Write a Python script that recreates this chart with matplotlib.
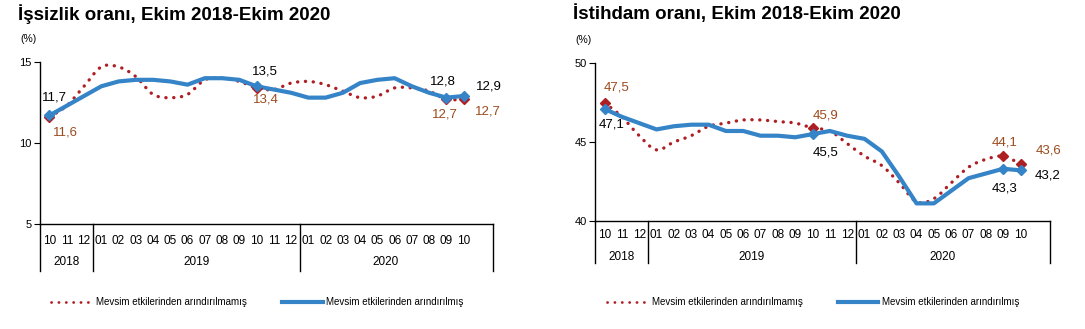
import matplotlib
matplotlib.use("Agg")
from matplotlib import pyplot as plt
from matplotlib.path import Path
from matplotlib.patches import PathPatch
from matplotlib.lines import Line2D
import matplotlib.transforms as mtransforms
import numpy as np

plt.rcParams['font.family'] = ['Liberation Sans', 'DejaVu Sans']

# ------------------------------------------------------------------ data
months = ['10', '11', '12', '01', '02', '03', '04', '05', '06', '07', '08', '09',
          '10', '11', '12', '01', '02', '03', '04', '05', '06', '07', '08', '09', '10']
years = ['2018', '2019', '2020']
year_spans = [(0, 2), (3, 14), (15, 24)]

issizlik_ham = [11.6, 12.3, 13.5, 14.7, 14.7, 14.1, 13.0, 12.8, 13.0, 13.9, 14.0, 13.8, 13.4,
                13.3, 13.7, 13.8, 13.6, 13.2, 12.8, 12.9, 13.4, 13.4, 13.2, 12.7, 12.7]
issizlik_mea = [11.7, 12.3, 12.9, 13.5, 13.8, 13.9, 13.9, 13.8, 13.6, 14.0, 14.0, 13.9, 13.5,
                13.3, 13.1, 12.8, 12.8, 13.1, 13.7, 13.9, 14.0, 13.5, 13.1, 12.8, 12.9]
istihdam_ham = [47.5, 46.6, 45.4, 44.5, 45.0, 45.4, 46.0, 46.2, 46.4, 46.4, 46.3, 46.2, 45.9,
                45.7, 44.9, 44.1, 43.5, 42.4, 41.2, 41.4, 42.4, 43.4, 43.9, 44.1, 43.6]
istihdam_mea = [47.1, 46.6, 46.2, 45.8, 46.0, 46.1, 46.1, 45.7, 45.7, 45.4, 45.4, 45.3, 45.5,
                45.7, 45.4, 45.2, 44.4, 42.8, 41.1, 41.1, 41.9, 42.7, 43.0, 43.3, 43.2]
label_idx = [0, 12, 23, 24]

RED = '#AE1F24'
BLUE = '#3584C8'
BROWN = '#9C4A1C'
W, H = 1085, 329

fig = plt.figure(figsize=(W / 100, H / 100), dpi=100)


def smooth_path(x, y):
    # excel style smoothed line (cubic bezier through every point)
    pts = np.column_stack([x, y]).astype(float)
    verts, codes = [pts[0]], [Path.MOVETO]
    n = len(pts)
    for i in range(n - 1):
        p0 = pts[max(i - 1, 0)]
        p1, p2 = pts[i], pts[i + 1]
        p3 = pts[min(i + 2, n - 1)]
        verts += [p1 + (p2 - p0) / 6, p2 - (p3 - p1) / 6, p2]
        codes += [Path.CURVE4] * 3
    return Path(verts, codes)


def draw_chart(rect, title, ylim, yticks, ham, mea, labels, row_y, sep_bottom):
    ax = fig.add_axes(rect)
    x = np.arange(len(months))
    ax.add_patch(PathPatch(smooth_path(x, ham), fill=False, edgecolor=RED, lw=2.4,
                           linestyle=(0, (0.05, 2.3)), capstyle='round', zorder=3))
    ax.plot(x, mea, color=BLUE, lw=3.0, solid_joinstyle='round', zorder=4)
    ax.plot(x[label_idx], np.array(ham)[label_idx], 'D', color=RED, ms=5, zorder=5)
    ax.plot(x[label_idx], np.array(mea)[label_idx], 'D', color=BLUE, ms=5, zorder=5)
    for i, (txt, dx, dy, col) in zip(label_idx * 2, labels):
        val = ham[i] if col == BROWN else mea[i]
        ax.annotate(txt, (i, val), xytext=(dx, -dy), textcoords='offset pixels',
                    ha='center', va='center', fontsize=9.5, color=col, zorder=6)

    ax.set_xlim(-0.55, 25.7)
    ax.set_ylim(*ylim)
    ax.set_yticks(yticks)
    ax.set_xticks([])
    ax.tick_params(axis='y', labelsize=8, length=4, width=0.8, pad=2)
    for s in ['top', 'right']:
        ax.spines[s].set_visible(False)
    for s in ['left', 'bottom']:
        ax.spines[s].set_linewidth(1)

    # month / year rows under the axis
    tr = mtransforms.blended_transform_factory(ax.transData, fig.transFigure)
    for i, m in enumerate(months):
        ax.text(i, 1 - row_y[0] / H, m, transform=tr, ha='center', va='center', fontsize=8.5)
    for yr, (a, b) in zip(years, year_spans):
        ax.text((a + b) / 2, 1 - row_y[1] / H, yr, transform=tr, ha='center', va='center',
                fontsize=8.5)
    bottom = rect[1]
    for xs in [-0.55, 2.5, 14.5, 25.7]:
        ax.add_line(Line2D([xs, xs], [bottom, 1 - sep_bottom / H], transform=tr,
                           color='black', lw=1, clip_on=False))

    fig.text(rect[0] - 20 / W, rect[1] + rect[3] + 23 / H, '(%)', fontsize=7.5,
             ha='left', va='center')
    fig.text(rect[0] - 22 / W, 1 - 19.5 / H, title, fontsize=13.5, fontweight='bold',
             ha='left', va='baseline')

    handles = [Line2D([], [], color=RED, lw=2.0, linestyle=(0, (0.05, 2.6)),
                      dash_capstyle='round'),
               Line2D([], [], color=BLUE, lw=3.0)]
    ax.legend(handles, ['Mevsim etkilerinden arındırılmamış', 'Mevsim etkilerinden arındırılmış'],
              ncol=2, frameon=False, fontsize=7, handlelength=4.2, handletextpad=0.4,
              columnspacing=3.6, loc='center',
              bbox_to_anchor=(rect[0] + rect[2] * 0.48, 1 - 302 / H),
              bbox_transform=fig.transFigure)
    return ax


labels_left = [('11,7', 5, -18, 'black'), ('13,5', 8, -15, 'black'),
               ('12,8', -4, -16, 'black'), ('12,9', 25, -10, 'black'),
               ('11,6', 16, 15, BROWN), ('13,4', 9, 12, BROWN),
               ('12,7', -2, 15, BROWN), ('12,7', 24, 12, BROWN)]
labels_right = [('47,1', 7, 16, 'black'), ('45,5', 13, 18, 'black'),
                ('43,3', 1, 20, 'black'), ('43,2', 27, 5, 'black'),
                ('47,5', 12, -15, BROWN), ('45,9', 13, -12, BROWN),
                ('44,1', 1, -14, BROWN), ('43,6', 28, -14, BROWN)]

draw_chart([40 / W, 1 - 224 / H, 453 / W, 162 / H], 'İşsizlik oranı, Ekim 2018-Ekim 2020',
           (5, 15), [5, 10, 15], issizlik_ham, issizlik_mea, labels_left, (241, 262), 271)
draw_chart([595 / W, 1 - 220.7 / H, 455 / W, 157.4 / H], 'İstihdam oranı, Ekim 2018-Ekim 2020',
           (40, 50), [40, 45, 50], istihdam_ham, istihdam_mea, labels_right, (235, 256.7), 263)

fig.savefig('out.png', dpi=100)
